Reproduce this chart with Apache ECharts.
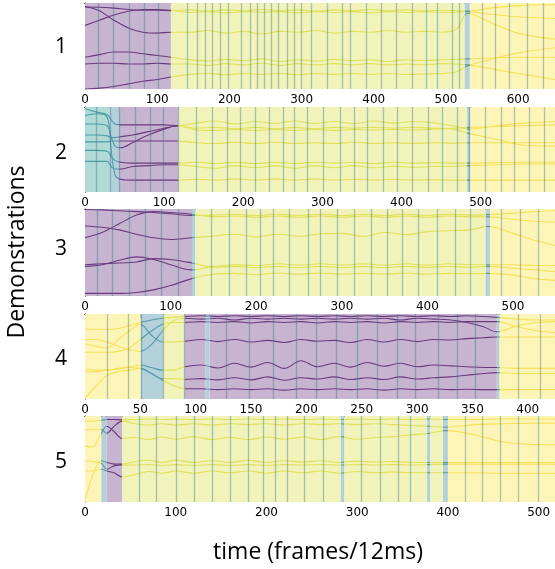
<!DOCTYPE html>
<html>
<head>
<meta charset="utf-8">
<script src="https://cdn.jsdelivr.net/npm/echarts@6/dist/echarts.min.js"></script>
<style>
  html, body { margin: 0; padding: 0; background: #fff; }
  #chart { width: 555px; height: 569px; }
</style>
</head>
<body>
<div id="chart"></div>
<script>
// rows and axes
var rowLabels = ['1', '2', '3', '4', '5'];
var xMax = [651, 594, 549, 424.6, 518];
var tickStep = [100, 100, 100, 50, 100];

// demonstration 1
var p1X = [0, 20, 40, 60, 80, 100, 119, 145, 170, 195, 220, 245, 270, 295, 320, 345, 370, 395, 420, 445, 470, 495, 515, 530, 560, 600, 651];
var p1Lines = [
    [4.7, 5, 6, 7.5, 8.5, 8.5, 9, 8, 9.5, 8, 9, 7.5, 9, 8, 9.5, 8, 9, 7.5, 9, 8, 9, 8.5, 9, 9.5, 6, 3, 2],
    [26, 20, 14, 9.5, 7.5, 7.5, 8.5, 11, 10, 11.5, 10, 11, 10, 11.5, 10, 11, 10, 11.5, 10, 11, 10, 11, 10.5, 10, 13, 16, 18],
    [4, 9, 20, 29, 34, 35, 34, 34, 32, 35, 33, 36, 33, 34, 32, 35, 33, 34, 32, 34, 33, 34, 30, 12, 22, 35, 42],
    [63, 60, 57, 57, 59, 61, 63, 66, 67.5, 65.5, 67, 65, 68, 66, 67.5, 65.5, 67, 66, 68, 66, 67, 66, 65.5, 65, 64, 63, 63],
    [71, 70, 70, 71, 71, 70, 71, 71, 72.5, 70.5, 72, 70, 72.5, 70.5, 72, 70.5, 72, 70.5, 72, 71, 72, 70.5, 71, 72, 76, 82, 89],
    [100, 99, 97, 94, 91, 89, 86, 83, 82, 83.5, 82, 83, 82, 83.5, 82, 83, 82, 83, 82, 83, 82.5, 82, 80, 73, 66, 58, 52]
];
var p1Phases = [[0, 119, 'purple'], [119, 526, 'green'], [526, 533, 'blue'], [533, 651, 'yellow']];
var p1Marks = [18, 39, 61, 82, 101, 142, 156, 166, 176, 188, 198, 216, 229, 238, 248, 258, 268, 280, 290, 300, 314, 335, 357, 367, 390, 410, 431, 453, 472, 488, 508, 518, 550, 568, 587, 612, 635];

// demonstration 2
var p2X = [0, 15, 28, 33, 38, 45, 60, 80, 100, 118, 140, 165, 190, 215, 240, 265, 290, 315, 340, 365, 390, 415, 440, 465, 485, 520, 555, 594];
var p2Lines = [
    [2, 6, 9, 15, 20, 21, 21, 21, 21, 22, 19, 16.5, 20, 17, 19.5, 16.5, 19.5, 17, 19.5, 16.5, 19, 17, 18.5, 22, 26, 22, 19, 17],
    [20, 20, 22, 35, 46, 48, 42, 33, 26, 22, 25, 24, 25.5, 24, 25.5, 24, 25.5, 24, 25, 24, 25, 24, 25, 26, 31, 38, 45, 46],
    [33, 33, 34, 36, 36, 35, 33, 29, 25, 22, 27, 27.5, 26.5, 27.5, 26.5, 27.5, 26.5, 27.5, 26.5, 27, 26.5, 27, 26, 25, 24, 23, 22, 21],
    [41, 41, 41, 40, 40, 40, 40, 40, 40, 40, 42, 43, 41.5, 43, 41.5, 43, 42, 43, 41.5, 43, 42, 43, 42, 42.5, 42, 42, 42, 42],
    [51, 51, 52, 58, 63, 65, 66, 66, 66, 66, 65, 66.5, 65, 66.5, 65, 66.5, 65, 66, 65, 66.5, 65, 66, 65.5, 66, 66, 65.5, 65, 65],
    [64, 64, 64, 70, 73, 73, 70, 69, 68, 68, 70, 72, 69, 71.5, 69, 72, 69, 71.5, 69, 71.5, 69.5, 71, 70, 70, 69, 68, 67, 67],
    [10, 8, 12, 50, 80, 85, 86, 86, 86, 86, 85, 86, 84.5, 86, 84.5, 86, 84.5, 86, 85, 86, 85, 86, 85.5, 86, 86, 86, 86, 86]
];
var p2Phases = [[0, 31.5, 'teal'], [31.5, 43, 'blue'], [43, 118, 'purple'], [118, 483, 'green'], [483, 487, 'blue'], [487, 594, 'yellow']];
var p2Marks = [14, 31.5, 43, 63, 83, 98.5, 118, 140, 161, 180, 196, 215, 233, 250, 264, 281, 301, 322, 340, 357, 377, 395, 414, 434, 451, 470, 485, 506, 526, 543, 562, 581];

// demonstration 3
var p3X = [0, 20, 40, 60, 80, 100, 125, 150, 175, 200, 225, 250, 275, 300, 325, 350, 375, 400, 425, 450, 470, 500, 525, 549];
var p3Lines = [
    [0.5, 1, 2, 3, 4, 5.5, 7.5, 7, 6, 7.5, 6, 7.5, 6, 7.5, 6, 7.5, 6, 7.5, 6, 7, 6.5, 5, 3, 2],
    [19.5, 21, 24, 29, 33, 35, 33, 31, 29, 32, 29, 31.5, 28.5, 28, 31.5, 27, 29.5, 26, 25, 24, 20, 28, 36, 42],
    [33, 27, 17, 7, 3, 4, 6, 9, 8, 9.5, 8, 9.5, 8, 9.5, 8, 9.5, 8, 9.5, 8, 9, 9, 12, 14, 15],
    [66, 64, 59, 55, 58, 64, 70, 66, 64, 65, 63, 64.5, 63, 64.5, 63, 64.5, 63, 64.5, 63, 64, 64, 64, 65, 65],
    [64, 63, 62, 61, 57, 58, 62, 67, 66, 67.5, 66, 67.5, 66, 67.5, 66, 67.5, 66, 67, 66, 67, 66, 68, 70, 72],
    [97, 97, 97, 96, 93, 88, 80, 75, 74, 75.5, 73.5, 75, 73.5, 75, 74, 75, 73.5, 75, 74, 74.5, 74, 76, 80, 82]
];
var p3Phases = [[0, 125, 'purple'], [125, 129, 'blue'], [129, 468, 'green'], [468, 473, 'blue'], [473, 549, 'yellow']];
var p3Marks = [14, 32, 52, 70, 89, 108.5, 148, 169, 188, 205, 220, 238, 261, 275, 295, 315, 334, 353.5, 371, 389.5, 411, 432, 450, 486, 508.5, 529];

// demonstration 4
var p4X = [0, 10, 20, 30, 40, 50, 60, 70, 80, 90, 105, 120, 135, 150, 165, 180, 195, 210, 225, 240, 255, 270, 285, 300, 315, 330, 345, 360, 372, 390, 410, 425];
var p4Lines = [
    [18, 18, 18, 17, 14, 10, 7, 5, 4, 3, 2, 3, 2, 3, 2, 3, 2, 3, 2, 3, 2, 3, 2, 3, 2, 3, 2, 3, 4, 6, 7, 7],
    [30, 30, 33, 38, 42, 44, 36, 20, 8, 5, 6, 5, 7, 5, 6, 5, 6, 5, 6, 5, 6, 5, 7, 5, 6, 7, 10, 15, 21, 14, 10, 9],
    [45, 45, 45, 44, 40, 30, 20, 12, 10, 10, 9, 10, 9, 10.5, 9, 10, 9, 10.5, 9, 10, 9, 10.5, 9, 10, 9, 10, 9, 9, 9, 15, 20, 22],
    [35, 38, 40, 30, 20, 12, 25, 33, 33, 32, 30, 32.5, 30, 33, 31, 33.5, 30, 32, 31, 33.5, 30, 33, 30, 32.5, 30, 30.5, 29, 28, 27, 27, 27, 27],
    [65, 66, 66, 64, 62, 60, 63, 66, 66, 62, 60, 63.5, 58, 62.5, 57, 64, 55, 62, 58, 62.5, 57, 61.5, 58, 62, 60, 61, 62, 63, 63, 64, 64, 64],
    [99, 85, 72, 68, 66, 64, 70, 76, 76, 77, 76, 77.5, 75, 77.5, 74, 78, 75, 76.5, 74, 77, 75, 77, 74, 76.5, 75, 74, 72, 70, 69, 70, 70, 70],
    [68, 68, 66, 65, 63, 64, 70, 78, 84, 88, 88, 89, 88, 89, 88, 89.5, 88, 89, 88, 89, 88, 89.5, 88, 89, 88, 89, 88.5, 89, 89, 89, 89, 89]
];
var p4Phases = [[0, 50.4, 'yellow'], [50.4, 70.6, 'blue'], [70.6, 90, 'green'], [90, 109, 'purple'], [109, 112.5, 'blue'], [112.5, 372, 'purple'], [372, 374.5, 'blue'], [374.5, 425, 'yellow']];
var p4Marks = [20, 39, 50.4, 70.6, 90, 127.6, 148.6, 169.7, 190.7, 208.7, 226.7, 246, 264, 282, 298.8, 319, 336.3, 353, 391, 411.4];

// demonstration 5
var p5X = [0, 8, 18, 24, 32, 41, 55, 70, 85, 100, 120, 140, 160, 180, 200, 220, 240, 260, 280, 300, 320, 340, 360, 380, 397, 430, 460, 490, 518];
var p5Lines = [
    [6, 6, 5, 4, 4, 4.5, 4, 3.5, 4, 3.5, 4, 3.5, 4, 3.5, 4, 3.5, 4, 3.5, 4, 3.5, 4, 3.5, 4, 3.5, 4, 4, 3.5, 3.5, 3.5],
    [16, 16, 16, 20, 12, 6, 9, 10.5, 9, 10.5, 9, 10.5, 9, 10, 9, 10.5, 9, 10, 9, 10, 9, 10, 11, 12, 13, 10, 9, 8.5, 8.5],
    [35, 36, 20, 12, 18, 26, 25, 27.5, 24.5, 27, 24, 27.5, 25, 27.5, 24.5, 27, 24.5, 27.5, 24, 27, 25, 24, 22, 20, 17, 22, 30, 33, 33.5],
    [99, 70, 52, 54, 56, 56, 53, 51.5, 54, 51.5, 54, 52, 54, 51.5, 54, 52, 53.5, 52, 54, 52.5, 53.5, 53, 54, 54, 54, 54, 54, 54, 54],
    [52, 53, 55, 62, 58, 57, 57, 56.5, 57.5, 56.5, 57.5, 56.5, 57.5, 56.5, 57.5, 56.5, 57, 56.5, 57, 56.5, 57, 56.5, 57, 56.5, 56, 56, 56, 56, 56],
    [64, 64, 62, 64, 66, 71, 68, 64.5, 66.5, 64, 66.5, 64, 66, 64, 66.5, 64, 66, 64, 66.5, 64.5, 66, 65, 66, 66, 66, 66, 66.5, 66.5, 66.5]
];
var p5Phases = [[0, 18, 'yellow'], [18, 23.7, 'blue'], [23.7, 41.2, 'purple'], [41.2, 282, 'green'], [282, 286, 'blue'], [286, 377, 'green'], [377, 380.6, 'blue'], [380.6, 394.5, 'green'], [394.5, 400, 'blue'], [400, 518, 'yellow']];
var p5Marks = [59.4, 79, 100.2, 120, 140, 160.3, 180.3, 196, 210, 223, 242, 263, 305, 325, 345, 358.8, 419, 438, 458, 478, 500];

var bgColor = { purple: '#c6b4d0', green: '#f1f3bb', yellow: '#fdf5b8', teal: '#b1d9d6', blue: '#b3d1db' };
var lineColor = { purple: '#6a3a7e', green: '#e0e258', yellow: '#f6e25a', teal: '#4a9fa3', blue: '#5a98aa' };
var gridTop = [3, 107, 209, 314, 416];
var gridHeight = [86, 85, 87, 85, 86];
var labelY = [47, 153, 249, 359, 462];

var panels = [
    { x: p1X, lines: p1Lines, phases: p1Phases, marks: p1Marks },
    { x: p2X, lines: p2Lines, phases: p2Phases, marks: p2Marks },
    { x: p3X, lines: p3Lines, phases: p3Phases, marks: p3Marks },
    { x: p4X, lines: p4Lines, phases: p4Phases, marks: p4Marks },
    { x: p5X, lines: p5Lines, phases: p5Phases, marks: p5Marks }
];

var grid = [], xAxis = [], yAxis = [], series = [], visualMap = [], graphic = [];

panels.forEach(function (p, i) {
    grid.push({ left: 85, right: -3, top: gridTop[i], height: gridHeight[i] });
    xAxis.push({
        type: 'value', gridIndex: i, min: 0, max: xMax[i], interval: tickStep[i],
        axisLine: { lineStyle: { color: '#000', width: 1 } },
        axisTick: { length: 4, lineStyle: { color: '#000' } },
        axisLabel: { color: '#000', fontFamily: 'DejaVu Sans', fontSize: 12, margin: 5, showMaxLabel: false },
        splitLine: { show: false }
    });
    xAxis.push({
        type: 'value', gridIndex: i, position: 'top', min: 0, max: xMax[i],
        axisLine: { show: true, onZero: false, lineStyle: { color: '#000', width: 1 } },
        axisTick: { show: false }, axisLabel: { show: false }, splitLine: { show: false }
    });
    yAxis.push({
        type: 'value', gridIndex: i, min: 0, max: 100, inverse: true,
        axisLine: { show: true, lineStyle: { color: '#000', width: 1 } },
        axisTick: { show: false }, axisLabel: { show: false }, splitLine: { show: false }
    });

    // phase backgrounds
    series.push({
        type: 'line', xAxisIndex: i * 2, yAxisIndex: i, data: [], z: 1, silent: true,
        markArea: {
            silent: true,
            data: p.phases.map(function (ph) {
                return [{ xAxis: ph[0], itemStyle: { color: bgColor[ph[2]] } }, { xAxis: ph[1] }];
            })
        }
    });

    var idx = [];
    p.lines.forEach(function (ln) {
        idx.push(series.length);
        series.push({
            type: 'line', xAxisIndex: i * 2, yAxisIndex: i, z: 3,
            showSymbol: false, smooth: 0.35, silent: true,
            lineStyle: { width: 1.1 },
            data: p.x.map(function (v, k) { return [v, ln[k]]; })
        });
    });
    visualMap.push({
        type: 'piecewise', show: false, dimension: 0, seriesIndex: idx,
        pieces: p.phases.map(function (ph, k) {
            return { gte: ph[0], lt: k === p.phases.length - 1 ? ph[1] + 50 : ph[1], color: lineColor[ph[2]] };
        })
    });

    // segment boundaries
    series.push({
        type: 'line', xAxisIndex: i * 2, yAxisIndex: i, data: [], z: 4, silent: true,
        markLine: {
            silent: true, symbol: 'none', label: { show: false },
            lineStyle: { color: 'rgba(60,120,135,0.42)', width: 1.3, type: 'solid' },
            data: p.marks.map(function (m) { return { xAxis: m }; })
        }
    });

    graphic.push({
        type: 'text', x: 61, y: labelY[i],
        style: { text: rowLabels[i], font: '21px "Open Sans"', fill: '#000', align: 'center', verticalAlign: 'middle' }
    });
});

graphic.push({
    type: 'text', x: 17, y: 252, rotation: Math.PI / 2,
    style: { text: 'Demonstrations', font: '23px "Open Sans"', fill: '#000', align: 'center', verticalAlign: 'middle' }
});
graphic.push({
    type: 'text', x: 318, y: 552,
    style: { text: 'time (frames/12ms)', font: '23px "Open Sans"', fill: '#000', align: 'center', verticalAlign: 'middle' }
});

var chart = echarts.init(document.getElementById('chart'));
chart.setOption({
    animation: false,
    grid: grid,
    xAxis: xAxis,
    yAxis: yAxis,
    visualMap: visualMap,
    series: series,
    graphic: graphic
});
</script>
</body>
</html>
